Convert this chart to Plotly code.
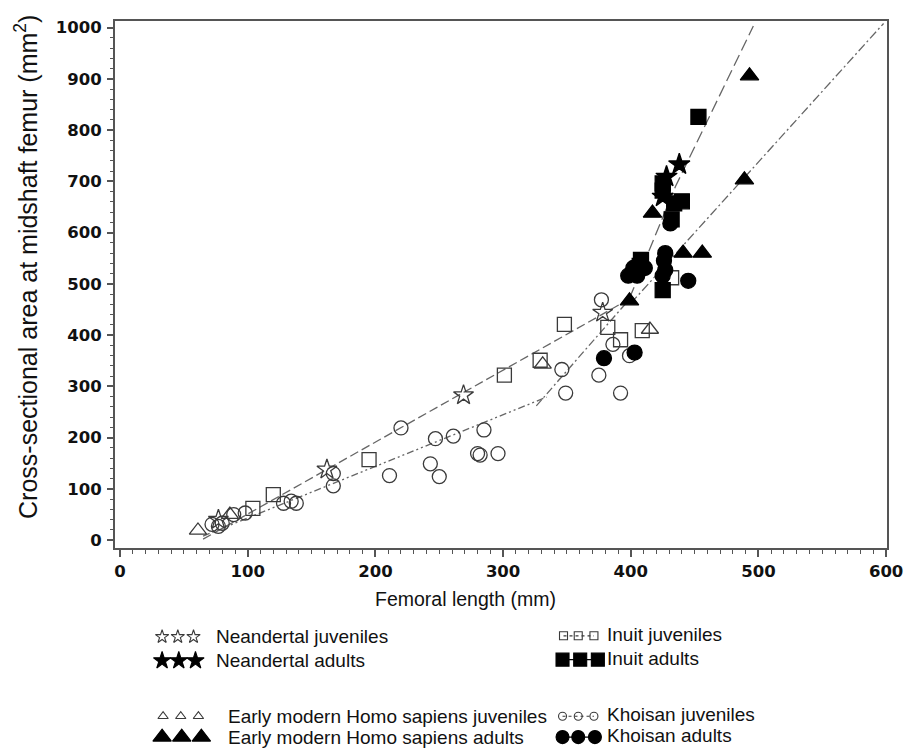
import plotly.graph_objects as go

# ---------------- data (femoral length mm, cross-sectional area mm^2) ----------------
nean_juv_x = [77, 162, 269, 378]
nean_juv_y = [40, 138, 283, 444]
nean_ad_x = [438, 428, 425]
nean_ad_y = [733, 709, 670]

emh_juv_x = [61, 86, 331, 415]
emh_juv_y = [19, 50, 343, 411]
emh_ad_x = [493, 489, 417, 441, 456, 399]
emh_ad_y = [906, 703, 638, 560, 560, 467]

inuit_juv_x = [104, 120, 195, 301, 329, 348, 382, 392, 409, 432]
inuit_juv_y = [62, 89, 157, 322, 351, 421, 415, 391, 409, 512]
inuit_ad_x = [453, 425, 425, 434, 440, 432, 408, 407, 425]
inuit_ad_y = [826, 696, 682, 657, 661, 626, 547, 535, 488]

khoi_juv_x = [72, 80, 77, 89, 98, 128, 134, 138, 167, 167, 211, 220, 243, 247, 250,
              261, 280, 282, 285, 296, 346, 349, 375, 377, 386, 392, 399]
khoi_juv_y = [31, 33, 27, 50, 53, 72, 76, 72, 130, 106, 126, 219, 149, 198, 124,
              203, 169, 166, 215, 169, 333, 287, 322, 469, 382, 287, 360]
khoi_ad_x = [379, 403, 431, 427, 426, 427, 425, 402, 398, 411, 405, 445]
khoi_ad_y = [355, 366, 618, 560, 545, 527, 516, 531, 516, 531, 516, 506]

# fitted lines
fit_upper_juv_x = [65, 400]
fit_upper_juv_y = [2, 472]
fit_steep_x = [399, 435, 496]
fit_steep_y = [472, 690, 1003]
fit_lower_juv_x = [65, 334]
fit_lower_juv_y = [8, 279]
fit_lower_mid_x = [326, 400]
fit_lower_mid_y = [262, 473]
fit_adult_x = [400, 598]
fit_adult_y = [462, 1008]

x_ticks = [0, 100, 200, 300, 400, 500, 600]
y_ticks = [0, 100, 200, 300, 400, 500, 600, 700, 800, 900, 1000]

x_title = "Femoral length (mm)"
y_title = "Cross-sectional area at midshaft femur (mm<sup>2</sup>)"
legend_left = ["Neandertal juveniles", "Neandertal adults",
               "Early modern Homo sapiens juveniles", "Early modern Homo sapiens adults"]
legend_right = ["Inuit juveniles", "Inuit adults", "Khoisan juveniles", "Khoisan adults"]

# ---------------- figure ----------------
W, H = 916, 748
PL, PR, PT, PB = 108, 895, 10, 541

fig = go.Figure()

LINEC = "#666666"
for xs, ys, dash in [
    (fit_upper_juv_x, fit_upper_juv_y, "9px,4px"),
    (fit_steep_x, fit_steep_y, "12px,5px"),
    (fit_lower_juv_x, fit_lower_juv_y, "7px,3px,2px,3px,2px,3px"),
    (fit_lower_mid_x, fit_lower_mid_y, "8px,3px,2px,3px"),
    (fit_adult_x, fit_adult_y, "9px,3px,2px,3px"),
]:
    fig.add_trace(go.Scatter(x=xs, y=ys, mode="lines",
                             line=dict(color=LINEC, width=1.3, dash=dash),
                             hoverinfo="skip", showlegend=False))

OPENC = "#3a3a3a"
series = [
    (khoi_juv_x, khoi_juv_y, "circle-open", 14, OPENC),
    (inuit_juv_x, inuit_juv_y, "square-open", 14, OPENC),
    (emh_juv_x, emh_juv_y, "triangle-up-open", 15, OPENC),
    (nean_juv_x, nean_juv_y, "star-open", 15, OPENC),
    (khoi_ad_x, khoi_ad_y, "circle", 15, "black"),
    (inuit_ad_x, inuit_ad_y, "square", 15, "black"),
    (emh_ad_x, emh_ad_y, "triangle-up", 16, "black"),
    (nean_ad_x, nean_ad_y, "star", 16, "black"),
]
for xs, ys, sym, size, col in series:
    fig.add_trace(go.Scatter(x=xs, y=ys, mode="markers",
                             marker=dict(symbol=sym, size=size, color=col,
                                         line=dict(width=1.3, color=col)),
                             showlegend=False))

# ---------------- custom legend on an overlay pixel axis ----------------
def legend_syms(xs, y, sym, size, line_dash=None, filled=True):
    col = "black" if filled else OPENC
    fig.add_trace(go.Scatter(
        x=xs, y=[y] * len(xs), xaxis="x2", yaxis="y2",
        mode="markers+lines" if line_dash else "markers",
        line=dict(color=col, width=1.2, dash=line_dash or "solid"),
        marker=dict(symbol=sym, size=size, color=col, line=dict(width=1.1, color=col)),
        showlegend=False, hoverinfo="skip"))

rows_y = [630, 654, 710, 731]
legend_syms([156, 172, 188], rows_y[0], "star-open", 10, filled=False)
legend_syms([156, 173, 190], rows_y[1], "star", 13)
legend_syms([157, 175, 193], rows_y[2], "triangle-up-open", 9, filled=False)
legend_syms([156, 176, 196], rows_y[3], "triangle-up", 16)
legend_syms([565, 580, 596], rows_y[0] - 1, "square-open", 8, line_dash="dot", filled=False)
legend_syms([564, 582, 600], rows_y[1] - 1, "square", 13, line_dash="solid")
legend_syms([564, 580, 596], rows_y[2], "circle-open", 8, line_dash="dot", filled=False)
legend_syms([564, 580, 597], rows_y[3], "circle", 13, line_dash="solid")

ann = []
TXTF = dict(family="Liberation Sans", size=19, color="#111")
for i, t in enumerate(legend_left):
    ann.append(dict(x=209 if i < 2 else 221, y=rows_y[i], xref="x2", yref="y2", text=t,
                    showarrow=False, xanchor="left", yanchor="middle", font=TXTF))
for i, t in enumerate(legend_right):
    ann.append(dict(x=607, y=rows_y[i] - 2, xref="x2", yref="y2", text=t,
                    showarrow=False, xanchor="left", yanchor="middle", font=TXTF))
ann.append(dict(x=465, y=592, xref="x2", yref="y2", text=x_title, showarrow=False,
                xanchor="center", yanchor="middle",
                font=dict(family="Liberation Sans", size=19.5, color="#111")))
ann.append(dict(x=18, y=258, xref="x2", yref="y2", text=y_title, showarrow=False,
                textangle=-90, xanchor="center", yanchor="middle",
                font=dict(family="Liberation Sans", size=25, color="#111")))

AX = "#555555"
TICKF = dict(family="DejaVu Sans", size=16.5, color="#111", weight="bold")
fig.update_layout(
    width=W, height=H, autosize=False,
    margin=dict(l=0, r=0, t=0, b=0),
    paper_bgcolor="white", plot_bgcolor="rgba(0,0,0,0)",
    annotations=ann,
    xaxis=dict(domain=[PL / W, PR / W], range=[-4, 601], anchor="y",
               tickvals=x_ticks, ticktext=[str(v) for v in x_ticks],
               ticks="outside", ticklen=7, tickwidth=1.5, tickcolor=AX,
               minor=dict(dtick=10, ticks="outside", ticklen=4, tickwidth=1.2, tickcolor=AX),
               showline=True, linecolor=AX, linewidth=2, mirror=True,
               showgrid=False, zeroline=False, tickfont=TICKF),
    yaxis=dict(domain=[1 - PB / H, 1 - PT / H], range=[-16, 1013], anchor="x",
               tickvals=y_ticks, ticktext=[str(v) for v in y_ticks],
               ticks="outside", ticklen=6, tickwidth=1.5, tickcolor=AX,
               minor=dict(dtick=20, ticks="outside", ticklen=3, tickwidth=1.2, tickcolor=AX),
               showline=True, linecolor=AX, linewidth=2, mirror=True,
               ticklabelstandoff=2,
               showgrid=False, zeroline=False, tickfont=TICKF),
    xaxis2=dict(domain=[0, 1], range=[0, W], anchor="y2", visible=False, fixedrange=True),
    yaxis2=dict(domain=[0, 1], range=[H, 0], anchor="x2", visible=False, fixedrange=True),
)

fig.write_html("out.html")
